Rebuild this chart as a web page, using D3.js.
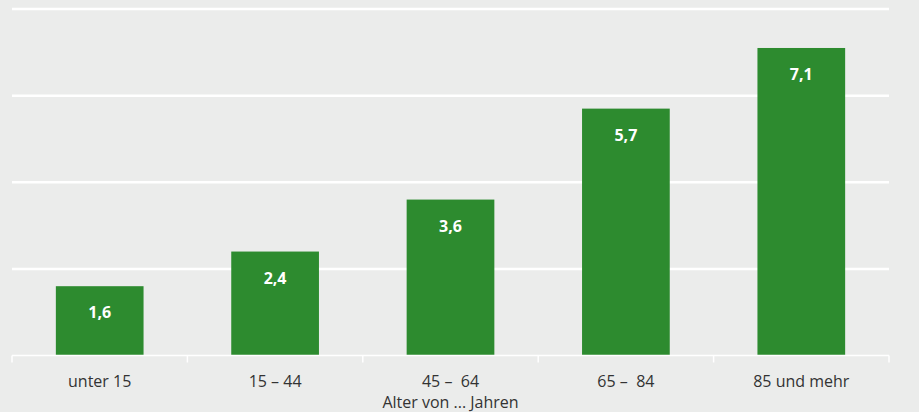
<!DOCTYPE html>
<html>
<head>
<meta charset="utf-8">
<script src="https://cdn.jsdelivr.net/npm/d3@7"></script>
<style>
  html, body { margin: 0; padding: 0; background: #ebeceb; }
  svg { display: block; }
  text { font-family: "Open Sans", "Noto Sans", sans-serif; }
</style>
</head>
<body>
<svg id="chart" width="919" height="412"></svg>
<script>
// Age groups and their values
const categories = ["unter 15", "15 – 44", "45 –  64", "65 –  84", "85 und mehr"];
const values = [1.6, 2.4, 3.6, 5.7, 7.1];
const gridTicks = [2, 4, 6, 8];
const axisTitle = "Alter von ... Jahren";

const width = 919, height = 412;
const margin = { left: 12, right: 30, top: 9, bottom: 56.5 };

const svg = d3.select("#chart");
svg.append("rect").attr("width", width).attr("height", height).attr("fill", "#ebeceb");

const x = d3.scaleBand()
  .domain(categories)
  .range([margin.left, width - margin.right])
  .paddingInner(0.5)
  .paddingOuter(0.25);

const y = d3.scaleLinear()
  .domain([0, 8])
  .range([height - margin.bottom, margin.top]);

// Horizontal grid
svg.append("g")
  .selectAll("line")
  .data(gridTicks)
  .join("line")
  .attr("x1", margin.left)
  .attr("x2", width - margin.right)
  .attr("y1", d => y(d))
  .attr("y2", d => y(d))
  .attr("stroke", "#ffffff")
  .attr("stroke-width", 2.5);

// Bars
svg.append("g")
  .selectAll("rect")
  .data(values)
  .join("rect")
  .attr("x", (d, i) => x(categories[i]))
  .attr("width", x.bandwidth())
  .attr("y", d => y(d))
  .attr("height", d => y(0) - y(d))
  .attr("fill", "#2d8b2f");

// Value labels inside bars
const fmt = d => d3.format(".1f")(d).replace(".", ",");
svg.append("g")
  .selectAll("text")
  .data(values)
  .join("text")
  .attr("x", (d, i) => x(categories[i]) + x.bandwidth() / 2)
  .attr("y", d => y(d) + 32)
  .attr("text-anchor", "middle")
  .attr("fill", "#ffffff")
  .attr("font-size", 16)
  .attr("font-weight", 700)
  .text(fmt);

// Category axis with boundary ticks between groups
const axisY = y(0);
const axisG = svg.append("g");
axisG.append("line")
  .attr("x1", margin.left).attr("x2", width - margin.right)
  .attr("y1", axisY).attr("y2", axisY)
  .attr("stroke", "#ffffff").attr("stroke-width", 1.5);

const step = x.step();
const boundaries = d3.range(categories.length + 1).map(i => margin.left + i * step);
axisG.selectAll("line.tick")
  .data(boundaries)
  .join("line")
  .attr("class", "tick")
  .attr("x1", d => d).attr("x2", d => d)
  .attr("y1", axisY).attr("y2", axisY + 7)
  .attr("stroke", "#ffffff").attr("stroke-width", 1.5);

axisG.selectAll("text")
  .data(categories)
  .join("text")
  .attr("x", d => x(d) + x.bandwidth() / 2)
  .attr("y", 386.5)
  .attr("text-anchor", "middle")
  .attr("fill", "#333333")
  .attr("font-size", 16)
  .style("white-space", "pre")
  .attr("xml:space", "preserve")
  .text(d => d);

svg.append("text")
  .attr("x", (margin.left + width - margin.right) / 2)
  .attr("y", 407.5)
  .attr("text-anchor", "middle")
  .attr("fill", "#333333")
  .attr("font-size", 16)
  .text(axisTitle);
</script>
</body>
</html>
